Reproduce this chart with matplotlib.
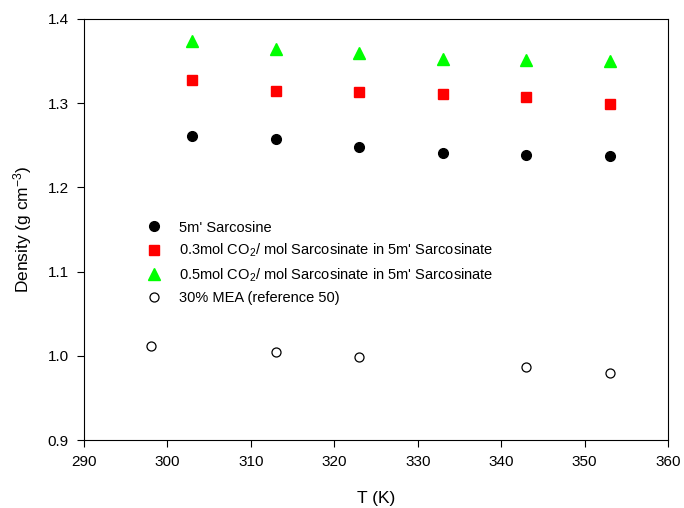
import matplotlib
matplotlib.use("Agg")
import matplotlib.pyplot as plt

plt.rcParams['font.family'] = ['Liberation Sans', 'DejaVu Sans']
plt.rcParams['mathtext.default'] = 'regular'

# temperatures (K)
T_sar = [303, 313, 323, 333, 343, 353]
T_mea = [298, 313, 323, 343, 353]

# densities (g cm-3)
rho_sar = [1.261, 1.258, 1.248, 1.241, 1.239, 1.237]
rho_03 = [1.328, 1.315, 1.313, 1.311, 1.307, 1.299]
rho_05 = [1.374, 1.364, 1.360, 1.352, 1.351, 1.350]
rho_mea = [1.012, 1.004, 0.999, 0.987, 0.980]

labels = ["5m' Sarcosine",
          "0.3mol CO$_2$/ mol Sarcosinate in 5m' Sarcosinate",
          "0.5mol CO$_2$/ mol Sarcosinate in 5m' Sarcosinate",
          "30% MEA (reference 50)"]

fig = plt.figure(figsize=(6.84, 5.08), dpi=100)
ax = fig.add_axes([84/684, 1 - 440/508, 584/684, 421/508])

ax.plot(T_sar, rho_sar, 'o', color='black', ms=7, label=labels[0])
ax.plot(T_sar, rho_03, 's', color='#ff0000', ms=7, mec='#ff0000', label=labels[1])
ax.plot(T_sar, rho_05, '^', color='#00ff00', ms=8, mec='#00ff00', label=labels[2])
ax.plot(T_mea, rho_mea, 'o', mfc='white', mec='black', mew=0.9, ms=6.5, label=labels[3])

ax.set_xlim(290, 360)
ax.set_ylim(0.9, 1.4)
ax.set_xticks(range(290, 361, 10))
ax.set_yticks([0.9, 1.0, 1.1, 1.2, 1.3, 1.4])
ax.set_yticklabels(['0.9', '1.0', '1.1', '1.2', '1.3', '1.4'])
ax.tick_params(direction='out', length=5, labelsize=11, pad=6, top=False, right=False)
ax.set_xlabel('T (K)', fontsize=12.5, labelpad=16)
ax.set_ylabel('Density (g cm$^{-3}$)', fontsize=12.5, labelpad=10)

leg = ax.legend(loc='upper left', bbox_to_anchor=(0.085, 0.535), frameon=False,
                fontsize=10.5, handletextpad=0.7, labelspacing=0.5, borderaxespad=0)

fig.savefig('out.png', dpi=100)
